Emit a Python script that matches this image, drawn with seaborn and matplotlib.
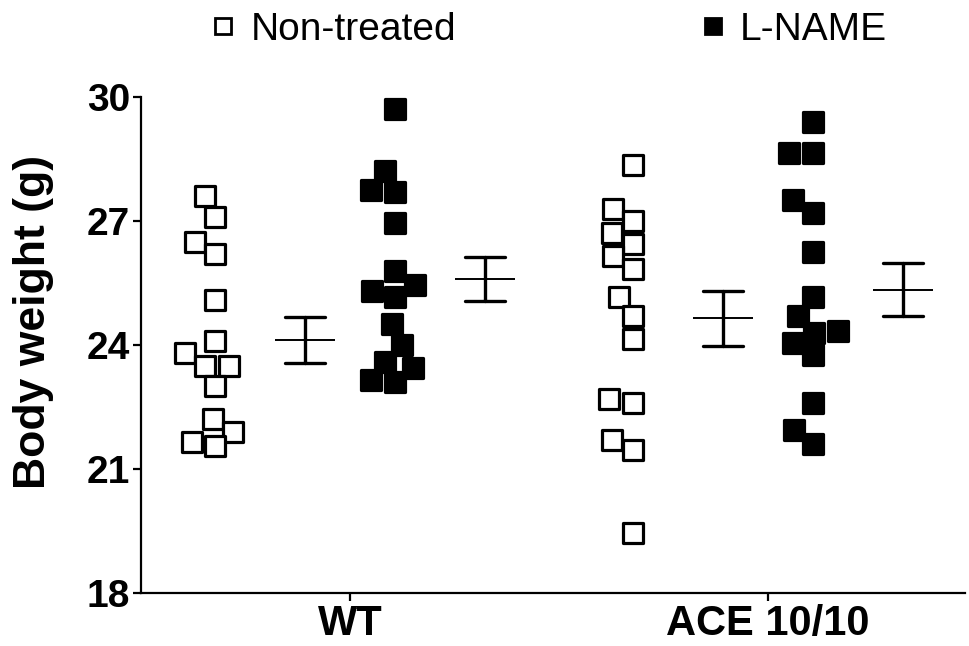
import matplotlib
matplotlib.use("Agg")
import matplotlib.pyplot as plt
import pandas as pd
import seaborn as sns
from matplotlib.lines import Line2D

# body weight (g)
groups = ["WT", "ACE 10/10"]
treatments = ["Non-treated", "L-NAME"]
wt_nt = [27.6, 27.1, 26.5, 26.2, 25.1, 24.1, 23.8, 23.5, 23.5, 23.0, 22.2, 21.9, 21.65, 21.55]
wt_ln = [29.7, 28.2, 27.7, 27.75, 26.95, 25.8, 25.45, 25.3, 25.15, 24.5, 24.0, 23.6, 23.45, 23.1, 23.15]
ace_nt = [28.35, 27.3, 27.0, 26.7, 26.45, 26.15, 25.85, 25.15, 24.7, 24.15, 22.6, 22.7, 21.7, 21.45, 19.45]
ace_ln = [29.4, 28.65, 28.65, 27.5, 27.2, 26.25, 25.15, 24.7, 24.35, 24.3, 24.05, 23.75, 22.6, 21.95, 21.6]
y_ticks = [18, 21, 24, 27, 30]

values = {("WT", "Non-treated"): wt_nt, ("WT", "L-NAME"): wt_ln,
          ("ACE 10/10", "Non-treated"): ace_nt, ("ACE 10/10", "L-NAME"): ace_ln}

# layout: each group has 4 columns (points, mean, points, mean)
group_base = {"WT": 0.0, "ACE 10/10": 4.64}
treat_off = {"Non-treated": 0.0, "L-NAME": 2.0}

rows = []
for (g, t), vals in values.items():
    for v in vals:
        rows.append({"group": g, "treatment": t, "weight": v,
                     "xpos": group_base[g] + treat_off[t],
                     "mpos": group_base[g] + treat_off[t] + 1})
df = pd.DataFrame(rows)

sns.set_style("white")
plt.rcParams["font.family"] = ["Liberation Sans", "DejaVu Sans"]
plt.rcParams.update({"text.color": "black", "axes.labelcolor": "black",
                     "xtick.color": "black", "ytick.color": "black"})

fig = plt.figure(figsize=(9.69, 6.46), dpi=100)
ax = fig.add_axes([0.1455, 0.082, 0.996 - 0.1455, 0.8498 - 0.082])

# individual animals
sns.swarmplot(data=df[df.treatment == "Non-treated"], x="xpos", y="weight",
              native_scale=True, orient="x", marker="s", size=14,
              color="white", edgecolor="black", linewidth=2.3, ax=ax)
sns.swarmplot(data=df[df.treatment == "L-NAME"], x="xpos", y="weight",
              native_scale=True, orient="x", marker="s", size=14,
              color="black", edgecolor="black", linewidth=2.3, ax=ax)

# mean +/- SEM
sns.pointplot(data=df, x="mpos", y="weight", native_scale=True, orient="x",
              errorbar="se", markers="_", markersize=43, markeredgewidth=1.4,
              linestyle="none", capsize=0.22, color="black",
              err_kws={"linewidth": 2.4}, ax=ax)

ax.set_xlim(-0.822, 8.333)
ax.set_ylim(18, 30)
ax.set_yticks(y_ticks)
ax.set_xticks([group_base[g] + 1.5 for g in groups])
ax.set_xticklabels(groups, fontsize=30, fontweight="bold")
ax.set_yticklabels([str(t) for t in y_ticks], fontsize=28, fontweight="bold")
ax.set_xlabel("")
ax.set_ylabel("Body weight (g)", fontsize=32, fontweight="bold")
ax.yaxis.set_label_coords(-0.106, 0.546)
ax.tick_params(axis="both", length=6, width=1.6, direction="out", pad=2,
               bottom=True, left=True)
sns.despine(ax=ax)
for s in ["left", "bottom"]:
    ax.spines[s].set_linewidth(1.6)
    ax.spines[s].set_color("black")

handles = [Line2D([], [], marker="s", linestyle="none", markersize=12,
                  markerfacecolor="white", markeredgecolor="black", markeredgewidth=2),
           Line2D([], [], marker="s", linestyle="none", markersize=12,
                  markerfacecolor="black", markeredgecolor="black", markeredgewidth=2)]
fig.legend(handles, treatments, loc="center", bbox_to_anchor=(0.565, 0.954),
           ncol=2, frameon=False, fontsize=28, handletextpad=0.3,
           columnspacing=6.2, handlelength=0.8, labelcolor="black")

fig.savefig("out.png", dpi=100)
